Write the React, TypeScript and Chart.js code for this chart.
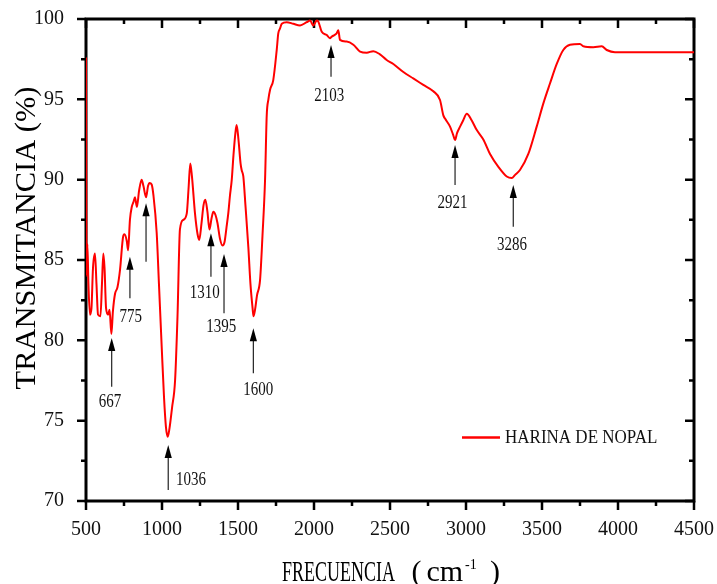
import { useEffect, useRef } from 'react';
import { Chart, registerables } from 'chart.js';
Chart.register(...registerables);

const FONT = '"Liberation Serif", "Times New Roman", serif';

// ---- data (wavenumber cm-1, transmittance %) ----
const wavenumbers = [
  500, 504, 509, 516, 526, 536, 546, 559, 569, 579,
  595, 605, 614, 622, 632, 645, 655, 667, 677, 691,
  707, 724, 745, 753, 768, 777, 789, 801, 812, 822,
  835, 849, 866, 878, 895, 908, 918, 932, 944, 965,
  980, 998, 1013, 1026, 1038, 1049, 1066, 1086, 1102, 1118,
  1140, 1163, 1175, 1186, 1197, 1217, 1234, 1245, 1260, 1273,
  1285, 1299, 1312, 1326, 1338, 1352, 1365, 1382, 1398, 1411,
  1424, 1436, 1447, 1459, 1470, 1484, 1491, 1503, 1517, 1524,
  1535, 1549, 1568, 1582, 1596, 1602, 1612, 1625, 1645, 1661,
  1678, 1689, 1700, 1711, 1732, 1755, 1765, 1776, 1788, 1820,
  1864, 1908, 1952, 1974, 1995, 2018, 2028, 2051, 2084, 2105,
  2116, 2135, 2149, 2160, 2171, 2215, 2259, 2303, 2347, 2390,
  2434, 2478, 2522, 2588, 2653, 2719, 2785, 2829, 2851, 2862,
  2895, 2915, 2928, 2941, 2961, 2982, 3005, 3037, 3070, 3114,
  3158, 3213, 3268, 3301, 3323, 3355, 3410, 3465, 3509, 3553,
  3597, 3640, 3684, 3750, 3772, 3838, 3893, 3926, 3980, 4500,
];
const transmittance = [
  97.6, 84.0, 86.0, 83.5, 81.6, 82.0, 84.5, 85.4, 83.5, 81.6,
  81.5, 83.5, 85.4, 84.5, 82.0, 81.6, 81.9, 80.4, 81.8, 82.9,
  83.3, 84.4, 86.5, 86.6, 86.2, 85.6, 87.5, 88.3, 88.6, 88.9,
  88.3, 89.3, 90.0, 89.6, 88.9, 89.6, 89.8, 89.7, 89.0, 86.7,
  83.5, 79.6, 76.5, 74.6, 74.0, 74.5, 75.8, 77.5, 81.5, 86.9,
  87.5, 87.9, 89.5, 91.0, 90.2, 87.9, 86.6, 86.25, 87.3, 88.4,
  88.75, 88.0, 86.9, 87.6, 88.0, 87.8, 87.3, 86.3, 85.9, 86.1,
  87.0, 87.9, 89.0, 90.0, 91.5, 93.0, 93.4, 92.5, 91.0, 90.6,
  90.2, 88.4, 85.8, 83.5, 82.0, 81.5, 81.9, 82.8, 83.75, 86.5,
  90.0, 94.0, 95.0, 95.6, 96.2, 98.1, 99.1, 99.4, 99.7, 99.8,
  99.7, 99.6, 99.8, 99.9, 99.6, 99.9, 99.85, 99.2, 99.0, 98.8,
  98.9, 99.0, 99.1, 99.3, 98.7, 98.6, 98.4, 97.97, 97.9, 98.0,
  97.8, 97.45, 97.2, 96.7, 96.3, 95.9, 95.5, 94.96, 94.0, 93.8,
  93.3, 92.8, 92.47, 92.9, 93.3, 93.7, 94.1, 93.7, 93.1, 92.5,
  91.6, 90.8, 90.2, 90.1, 90.3, 90.6, 91.6, 93.3, 94.75, 96.0,
  97.2, 98.07, 98.4, 98.45, 98.3, 98.24, 98.3, 98.07, 97.93, 97.93,
];
const seriesLabel = 'HARINA DE NOPAL';

// axis ranges / ticks
const xMin = 500, xMax = 4500, xMajor = 500, xMinor = 250;
const yMin = 70, yMax = 100, yMajor = 5, yMinor = 2.5;

// peak annotations (in data units)
const peakLabels = ['667', '775', '', '1036', '1310', '1395', '1600', '2103', '2921', '3286'];
const arrowX = [669, 789, 895, 1041, 1322, 1408, 1601, 2112, 2928, 3311];
const arrowTip = [80.15, 85.21, 88.53, 73.49, 86.66, 85.37, 80.75, 98.38, 92.16, 89.67];
const arrowTail = [77.11, 82.62, 84.89, 70.69, 83.96, 81.68, 77.95, 96.41, 89.67, 87.07];
const labelX = [658, 795, 895, 1092, 1281, 1390, 1634, 2100, 2911, 3303];
const labelY = [76.18, 81.47, 84.0, 71.31, 82.97, 80.85, 76.91, 95.23, 88.53, 85.93];
const labelAlign = ['center', 'center', 'center', 'left', 'center', 'center', 'center', 'center', 'center', 'center'];

export default function App() {
  const ref = useRef<HTMLCanvasElement>(null);
  useEffect(() => {
    document.body.style.margin = '0';
    const canvas = ref.current!;

    const framePlugin = {
      id: 'frame',
      beforeDatasetsDraw(chart: any) {
        const { ctx, chartArea: a, scales } = chart;
        const xs = scales.x, ys = scales.y;
        ctx.save();
        ctx.strokeStyle = '#000';
        ctx.lineWidth = 2.5;
        ctx.beginPath();
        for (let v = xMin; v <= xMax; v += xMinor) {
          const px = xs.getPixelForValue(v);
          const len = (v - xMin) % xMajor === 0 ? 9 : 5;
          ctx.moveTo(px, a.bottom); ctx.lineTo(px, a.bottom + len);
          ctx.moveTo(px, a.top); ctx.lineTo(px, a.top + len);
        }
        for (let v = yMin; v <= yMax; v += yMinor) {
          const py = ys.getPixelForValue(v);
          const len = (v - yMin) % yMajor === 0 ? 9 : 5;
          ctx.moveTo(a.left, py); ctx.lineTo(a.left - len, py);
          ctx.moveTo(a.right, py); ctx.lineTo(a.right - len, py);
        }
        ctx.stroke();
        ctx.lineWidth = 3;
        ctx.strokeRect(a.left, a.top, a.right - a.left, a.bottom - a.top);
        ctx.restore();
      },
      afterDatasetsDraw(chart: any) {
        const { ctx, scales } = chart;
        const xs = scales.x, ys = scales.y;
        ctx.save();
        for (let i = 0; i < arrowX.length; i++) {
          const px = xs.getPixelForValue(arrowX[i]);
          const tip = ys.getPixelForValue(arrowTip[i]);
          const tail = ys.getPixelForValue(arrowTail[i]);
          ctx.strokeStyle = '#222';
          ctx.lineWidth = 1.2;
          ctx.beginPath();
          ctx.moveTo(px, tail);
          ctx.lineTo(px, tip + 10);
          ctx.stroke();
          ctx.fillStyle = '#000';
          ctx.beginPath();
          ctx.moveTo(px, tip);
          ctx.lineTo(px - 3.6, tip + 13);
          ctx.lineTo(px + 3.6, tip + 13);
          ctx.closePath();
          ctx.fill();
          if (peakLabels[i]) {
            const lx = xs.getPixelForValue(labelX[i]);
            const ly = ys.getPixelForValue(labelY[i]);
            ctx.save();
            ctx.translate(lx, ly);
            ctx.scale(1, 1.25);
            ctx.font = `15px ${FONT}`;
            ctx.fillStyle = '#111';
            ctx.textAlign = labelAlign[i] as CanvasTextAlign;
            ctx.textBaseline = 'middle';
            ctx.fillText(peakLabels[i], 0, 0);
            ctx.restore();
          }
        }
        ctx.restore();
      },
      afterDraw(chart: any) {
        const { ctx, chartArea: a } = chart;
        const ds = chart.data.datasets[0];
        ctx.save();
        // legend
        const ly = a.bottom - 63.5;
        ctx.strokeStyle = ds.borderColor;
        ctx.lineWidth = 2.5;
        ctx.beginPath();
        ctx.moveTo(a.right - 232, ly);
        ctx.lineTo(a.right - 194, ly);
        ctx.stroke();
        ctx.save();
        ctx.translate(a.right - 189, ly);
        ctx.scale(1, 1.15);
        ctx.font = `17px ${FONT}`;
        ctx.fillStyle = '#111';
        ctx.textAlign = 'left';
        ctx.textBaseline = 'middle';
        ctx.fillText(ds.label, 0, 0);
        ctx.restore();

        // y title
        const cy = (a.top + a.bottom) / 2 - 22;
        ctx.save();
        ctx.translate(a.left - 51.5, cy);
        ctx.rotate(-Math.PI / 2);
        ctx.scale(1.05, 1);
        ctx.font = `29px ${FONT}`;
        ctx.fillStyle = '#000';
        ctx.textAlign = 'center';
        ctx.textBaseline = 'alphabetic';
        ctx.fillText('TRANSMITANCIA (%)', 0, 0);
        ctx.restore();

        // x title
        const cx = (a.left + a.right) / 2;
        const base = a.bottom + 79.7;
        ctx.fillStyle = '#000';
        ctx.textAlign = 'left';
        ctx.textBaseline = 'alphabetic';
        ctx.font = `30px ${FONT}`;
        ctx.save();
        ctx.translate(cx - 108, base);
        ctx.scale(0.6, 1);
        ctx.fillText('FRECUENCIA', 0, 0);
        ctx.restore();
        ctx.fillText('(', cx + 21.5, base);
        ctx.fillText('cm', cx + 36.5, base);
        ctx.fillText(')', cx + 100, base);
        ctx.font = `14px ${FONT}`;
        ctx.fillText('-1', cx + 75, base - 12);
        ctx.restore();
      },
    };

    const chart = new Chart(canvas, {
      type: 'scatter',
      data: {
        datasets: [
          {
            label: seriesLabel,
            data: wavenumbers.map((x, i) => ({ x, y: transmittance[i] })),
            showLine: true,
            borderColor: '#ff0000',
            backgroundColor: '#ff0000',
            borderWidth: 2,
            pointRadius: 0,
            cubicInterpolationMode: 'monotone',
          } as any,
        ],
      },
      options: {
        responsive: false,
        devicePixelRatio: 1,
        animation: false,
        layout: { padding: { top: 19, right: 23, left: 0, bottom: 0 } },
        plugins: { legend: { display: false }, tooltip: { enabled: false } },
        scales: {
          x: {
            type: 'linear',
            min: xMin,
            max: xMax,
            grid: { display: false },
            border: { display: false },
            ticks: {
              stepSize: xMajor,
              font: { family: FONT, size: 20 },
              color: '#111',
              padding: 9,
              maxRotation: 0,
              autoSkip: false,
              callback: (v: any) => String(v),
            },
            afterFit: (s: any) => {
              s.height = 83;
              s.paddingLeft = 0;
              s.paddingRight = 0;
            },
          },
          y: {
            type: 'linear',
            min: yMin,
            max: yMax,
            grid: { display: false },
            border: { display: false },
            ticks: {
              stepSize: yMajor,
              font: { family: FONT, size: 20 },
              color: '#111',
              padding: 14,
              callback: (v: any) => String(v),
            },
            afterFit: (s: any) => {
              s.width = 86;
              s.paddingTop = 0;
              s.paddingBottom = 0;
            },
          },
        },
      },
      plugins: [framePlugin],
    });
    return () => chart.destroy();
  }, []);

  return (
    <div style={{ width: 717, height: 584, background: '#fff' }}>
      <canvas ref={ref} width={717} height={584} style={{ display: 'block' }} />
    </div>
  );
}
